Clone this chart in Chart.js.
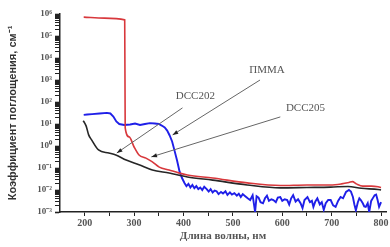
<!DOCTYPE html>
<html>
<head>
<meta charset="utf-8">
<script src="https://cdn.jsdelivr.net/npm/chart.js@4.4.0/dist/chart.umd.min.js"></script>
<style>
  html, body { margin: 0; padding: 0; background: #fff; }
  #wrap { width: 390px; height: 247px; }
</style>
</head>
<body>
<div id="wrap"><canvas id="absorption-chart"></canvas></div>
<script>
// Wavelength (nm) and absorption coefficient (cm^-1)

// ПММА (blue)
var pmmaWave = [198, 205, 215, 230, 245, 252, 258, 264, 270, 280, 292, 302, 312, 322, 332, 342, 350, 356, 362, 367,
    372, 377, 382, 387, 392, 397, 402, 406, 410, 414, 418, 422, 426, 430, 434, 438, 442, 447, 451, 455,
    459, 463, 467, 471, 476, 480, 485, 489, 494, 498, 503, 508, 512, 516, 520, 525, 530, 535, 540, 545,
    548, 552, 556, 561, 565, 569, 573, 578, 582, 587, 591, 596, 600, 605, 610, 614, 618, 622, 627, 632,
    637, 641, 645, 651, 656, 660, 663, 667, 671, 676, 680, 684, 688, 693, 698, 703, 708, 713, 718, 723,
    729, 735, 739, 743, 746, 749, 753, 756, 759, 763, 766, 769, 773, 776, 780, 784, 787, 790, 793, 796, 800];
var pmmaValue = [26, 27, 28, 30, 32, 30, 22, 13, 10, 9, 9.5, 10.5, 9, 10, 11, 10.5, 10, 8.5, 7, 5,
    3, 1.6, 0.6, 0.22, 0.07, 0.035, 0.021, 0.015, 0.019, 0.013, 0.017, 0.012, 0.015, 0.011, 0.013, 0.010, 0.014, 0.011, 0.0085, 0.011,
    0.0078, 0.0095, 0.0088, 0.0065, 0.0082, 0.007, 0.0088, 0.006, 0.0078, 0.0062, 0.0072, 0.0055, 0.0068, 0.0048, 0.0065, 0.0052, 0.0042, 0.0035, 0.0058, 0.001,
    0.0052, 0.0045, 0.0028, 0.0025, 0.0042, 0.0055, 0.0032, 0.0038, 0.0035, 0.0028, 0.0045, 0.0048, 0.0032, 0.0038, 0.0035, 0.0022, 0.0042, 0.0058, 0.003, 0.0038,
    0.0025, 0.0015, 0.0035, 0.0048, 0.0028, 0.0032, 0.0017, 0.003, 0.0042, 0.0022, 0.0028, 0.00126, 0.0025, 0.0035, 0.0035, 0.002, 0.0017, 0.0032, 0.0048, 0.0042,
    0.0081, 0.01, 0.0085, 0.0048, 0.0022, 0.0012, 0.0028, 0.0042, 0.0035, 0.0025, 0.0018, 0.0017, 0.0025, 0.001, 0.0032, 0.0045, 0.0058, 0.0062, 0.0035, 0.0017, 0.0028];

// DCC202 (black)
var dcc202Wave = [197, 199, 203, 208, 214, 228, 249, 263, 284, 310, 337, 371, 408, 459, 529, 596, 650, 698, 733, 760, 794, 800];
var dcc202Value = [14, 12, 8, 3.2, 1.9, 0.66, 0.48, 0.39, 0.23, 0.14, 0.081, 0.059, 0.039, 0.028, 0.017, 0.0125, 0.013, 0.0135, 0.0145, 0.012, 0.0105, 0.01];

// DCC205 (red)
var dcc205Wave = [198, 240, 281, 282, 290, 300, 310, 324, 337, 351, 371, 390, 408, 459, 529, 596, 650, 698, 720, 735, 742, 750, 763, 780, 794, 800];
var dcc205Value = [720000, 650000, 540000, 6.6, 2.6, 0.9, 0.39, 0.28, 0.19, 0.11, 0.081, 0.06, 0.048, 0.035, 0.021, 0.016, 0.017, 0.017, 0.019, 0.022, 0.024, 0.019, 0.015, 0.015, 0.014, 0.013];

// x-axis ticks (labels only on the hundreds)
var xTicks = [200, 250, 300, 350, 400, 450, 500, 550, 600, 650, 700, 750, 800];

// Callout labels: text anchor, arrow tail and arrow head, in data units
var noteLabels = ['DCC202', 'ПММА', 'DCC205'];
var noteTextAt = [[424, 190], [569, 2800], [647, 54]];
var noteTail = [[398, 54], [555, 1000], [596, 21]];
var noteHead = [[265, 0.48], [378, 3.2], [335, 0.32]];

function toPoints(xs, ys) {
    return xs.map(function (x, i) { return {x: x, y: ys[i]}; });
}

var sup = {'0': '⁰', '1': '¹', '2': '²', '3': '³', '4': '⁴', '5': '⁵', '6': '⁶', '7': '⁷', '8': '⁸', '9': '⁹', '-': '⁻'};
function powLabel(e) {
    return '10' + String(e).split('').map(function (c) { return sup[c]; }).join('');
}

const calloutPlugin = {
    id: 'callouts',
    afterDatasetsDraw(chart) {
        const {ctx, scales: {x, y}} = chart;
        ctx.save();
        noteLabels.forEach((label, i) => {
            const tx = x.getPixelForValue(noteTail[i][0]), ty = y.getPixelForValue(noteTail[i][1]);
            const hx = x.getPixelForValue(noteHead[i][0]), hy = y.getPixelForValue(noteHead[i][1]);
            ctx.strokeStyle = '#666';
            ctx.lineWidth = 1;
            ctx.beginPath();
            ctx.moveTo(tx, ty);
            ctx.lineTo(hx, hy);
            ctx.stroke();
            // arrow head
            const a = Math.atan2(hy - ty, hx - tx);
            ctx.fillStyle = '#222';
            ctx.beginPath();
            ctx.moveTo(hx, hy);
            ctx.lineTo(hx - 6 * Math.cos(a - 0.35), hy - 6 * Math.sin(a - 0.35));
            ctx.lineTo(hx - 6 * Math.cos(a + 0.35), hy - 6 * Math.sin(a + 0.35));
            ctx.closePath();
            ctx.fill();
            // text
            ctx.font = '11px "Liberation Serif"';
            ctx.fillStyle = '#555';
            ctx.textAlign = 'center';
            ctx.textBaseline = 'middle';
            ctx.fillText(label, x.getPixelForValue(noteTextAt[i][0]), y.getPixelForValue(noteTextAt[i][1]));
        });
        ctx.restore();
    }
};

var ctx = document.getElementById('absorption-chart');

new Chart(ctx, {
    type: 'line',
    data: {
        datasets: [{
            label: 'DCC205',
            data: toPoints(dcc205Wave, dcc205Value),
            borderColor: '#d8383c',
            borderWidth: 1.6,
            pointRadius: 0,
            cubicInterpolationMode: 'monotone',
            order: 0
        }, {
            label: 'DCC202',
            data: toPoints(dcc202Wave, dcc202Value),
            borderColor: '#262626',
            borderWidth: 1.6,
            pointRadius: 0,
            cubicInterpolationMode: 'monotone',
            order: 1
        }, {
            label: 'ПММА',
            data: toPoints(pmmaWave, pmmaValue),
            borderColor: '#1f1fe8',
            borderWidth: 1.9,
            pointRadius: 0,
            tension: 0,
            order: 2
        }]
    },
    options: {
        responsive: true,
        maintainAspectRatio: false,
        animation: false,
        layout: {
            padding: {top: 14, right: 4, left: 0, bottom: 0}
        },
        plugins: {
            legend: {display: false},
            tooltip: {enabled: false}
        },
        scales: {
            x: {
                type: 'linear',
                min: 150,
                max: 810,
                grid: {display: true, drawOnChartArea: false, tickLength: 4, tickColor: '#222'},
                border: {color: '#222', width: 1.5},
                afterBuildTicks: (scale) => {
                    scale.ticks = xTicks.map(function (v) { return {value: v}; });
                },
                ticks: {
                    autoSkip: false,
                    maxRotation: 0,
                    padding: 1,
                    color: '#555',
                    font: {family: 'Liberation Serif', size: 10, weight: 'bold'},
                    callback: (v) => (v % 100 === 0 ? String(v) : '')
                },
                title: {
                    display: true,
                    text: 'Длина волны, нм',
                    color: '#555',
                    font: {family: 'Liberation Serif', size: 11, weight: 'bold'},
                    padding: {top: 0, bottom: 4}
                },
                afterFit: (scale) => { scale.height = 35; }
            },
            y: {
                type: 'logarithmic',
                min: 0.001,
                max: 1000000,
                grid: {
                    display: true,
                    drawOnChartArea: false,
                    tickLength: 5,
                    tickColor: '#222',
                    tickWidth: (c) => (c.tick && c.tick.label ? 1.6 : 1)
                },
                border: {color: '#222', width: 1.5},
                afterBuildTicks: (scale) => {
                    scale.ticks = scale.ticks.filter(function (t) {
                        const m = t.value / Math.pow(10, Math.floor(Math.log10(t.value) + 1e-9));
                        return Math.abs(m - Math.round(m)) < 1e-6;
                    });
                },
                ticks: {
                    autoSkip: false,
                    padding: 3,
                    color: '#555',
                    font: {family: 'Liberation Serif', size: 9, weight: 'bold'},
                    callback: (v) => {
                        const e = Math.log10(v);
                        return Math.abs(e - Math.round(e)) < 1e-6 ? powLabel(Math.round(e)) : '';
                    }
                },
                title: {
                    display: true,
                    text: 'Коэффициент поглощения, см⁻¹',
                    color: '#333',
                    font: {family: 'Liberation Sans', size: 11, weight: 'bold'},
                    padding: {top: 6, bottom: 0}
                },
                afterFit: (scale) => { scale.width = 60; }
            }
        }
    },
    plugins: [calloutPlugin]
});
</script>
</body>
</html>
